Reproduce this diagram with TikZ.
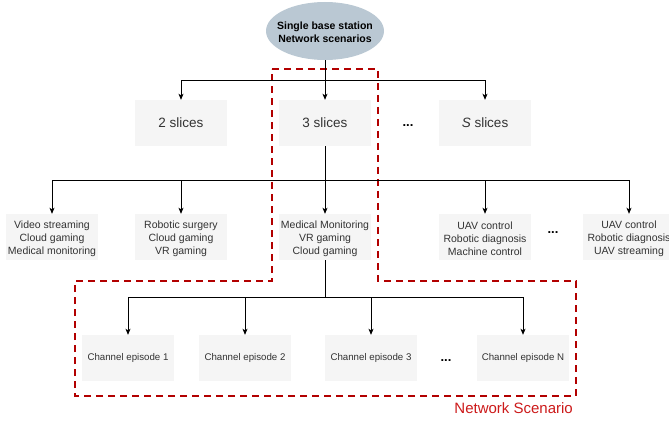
\documentclass[tikz,border=0pt]{standalone}
\usepackage{fontspec}
\setmainfont{Liberation Sans}
\usetikzlibrary{arrows.meta,shapes.geometric}
\definecolor{ellfill}{HTML}{BAC8D3}
\definecolor{boxfill}{HTML}{F5F5F5}
\definecolor{txtgray}{HTML}{333333}
\definecolor{darkred}{HTML}{B20000}
\definecolor{labred}{HTML}{CC1A1A}
\tikzset{
  arr/.style={-{Stealth[length=6pt,width=5pt,inset=1.5pt]}, line width=0.9pt, black},
  ln/.style={line width=0.9pt, black},
  slicebox/.style={fill=boxfill, draw=none, minimum width=92pt, minimum height=46pt, inner sep=0pt, text=txtgray, font=\fontsize{13.5}{16}\selectfont},
  appbox/.style={fill=boxfill, draw=none, minimum width=92pt, minimum height=46pt, inner sep=0pt, text=txtgray, align=center, font=\fontsize{10.5}{13}\selectfont},
  apptext/.style={inner sep=0pt, text=txtgray, align=center, font=\fontsize{10.5}{13}\selectfont},
  chbox/.style={fill=boxfill, draw=none, minimum width=92pt, minimum height=46pt, inner sep=0pt, text=txtgray, font=\fontsize{9.7}{12}\selectfont},
  dots/.style={font=\bfseries\fontsize{13}{14}\selectfont, text=black, inner sep=0pt},
  frame/.style={draw=darkred, line width=2pt, dash pattern=on 7pt off 5pt},
}
\begin{document}
\begin{tikzpicture}[x=1pt,y=-1pt]
\useasboundingbox (0,0) rectangle (669,422);
\clip (0,0) rectangle (669,422);
% root
\node[ellipse, fill=ellfill, minimum width=118pt, minimum height=58pt, inner sep=0pt] (root) at (325,31) {};
\node[align=center, inner sep=0pt, font=\bfseries\fontsize{10.5}{12.7}\selectfont] (roottext) at (325,32.5) {Single base station\\Network scenarios};
% slices
\node[slicebox] (s2) at (181,123) {2 slices};
\node[slicebox] (s3) at (325,123) {3 slices};
\node[slicebox] (sS) at (485,123) {\textit{S} slices};
\node[dots] (d1) at (408,126) {...};
% apps
\node[appbox] (a1) at (52,237) {};
\node[appbox] (a2) at (181,237) {};
\node[appbox] (a3) at (325,237) {};
\node[appbox] (a4) at (485,237) {};
\node[appbox] (a5) at (629,237) {};
\node[apptext] (t1) at (52,238.5) {Video streaming\\Cloud gaming\\Medical monitoring};
\node[apptext] (t2) at (181,238.5) {Robotic surgery\\Cloud gaming\\VR gaming};
\node[apptext] (t3) at (325,238.5) {Medical Monitoring\\VR gaming\\Cloud gaming};
\node[apptext] (t4) at (485,238.5) {UAV control\\Robotic diagnosis\\Machine control};
\node[dots] (d2) at (553,233) {...};
\node[apptext] (t5) at (629,238.5) {UAV control\\Robotic diagnosis\\UAV streaming};
% channels
\node[chbox] (c1) at (128,358) {Channel episode 1};
\node[chbox] (c2) at (245,358) {Channel episode 2};
\node[chbox] (c3) at (371,358) {Channel episode 3};
\node[dots] (d3) at (446,361) {...};
\node[chbox] (cN) at (523,358) {Channel episode N};
% network scenario frame
\draw[frame] (272,69) -- (378,69) -- (378,281) -- (576,281) -- (576,396) -- (75,396) -- (75,281) -- (272,281) -- cycle;
\node[text=labred, font=\fontsize{15}{17}\selectfont, anchor=base east, inner sep=0pt] (lab) at (573,413) {Network Scenario};
% connectors level 1
\coordinate (j1) at (325,80);
\draw[ln] (root.south) -- (j1);
\draw[arr] (j1) -| (s2.north);
\draw[arr] (j1) -- (s3.north);
\draw[arr] (j1) -| (sS.north);
% level 2
\coordinate (j2) at (325,180);
\draw[ln] (s3.south) -- (j2);
\draw[arr] (j2) -| (a1.north);
\draw[arr] (j2) -| (a2.north);
\draw[arr] (j2) -- (a3.north);
\draw[arr] (j2) -| (a4.north);
\draw[arr] (j2) -| (a5.north);
% level 3
\coordinate (j3) at (325,297);
\draw[ln] (a3.south) -- (j3);
\draw[arr] (j3) -| (c1.north);
\draw[arr] (j3) -| (c2.north);
\draw[arr] (j3) -| (c3.north);
\draw[arr] (j3) -| (cN.north);
\end{tikzpicture}
\end{document}
